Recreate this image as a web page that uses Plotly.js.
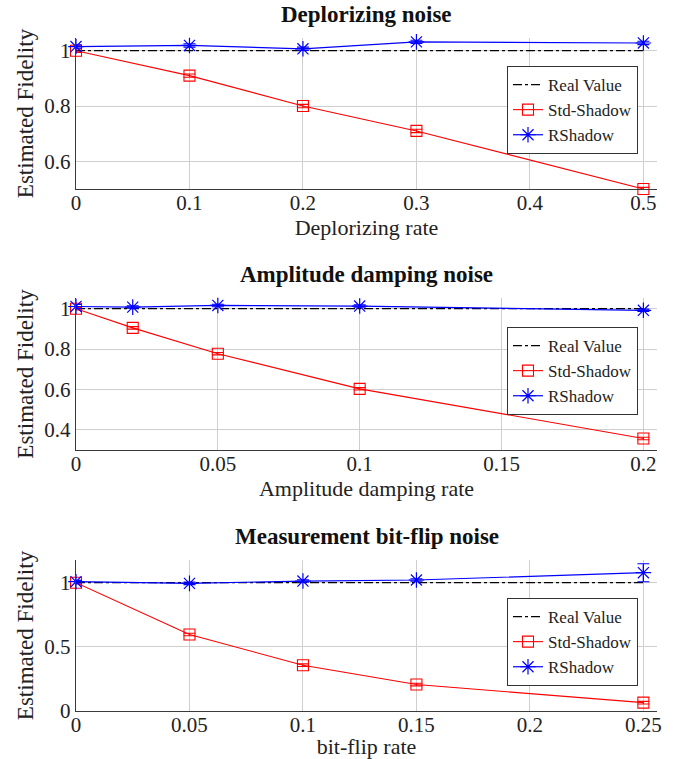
<!DOCTYPE html>
<html>
<head>
<meta charset="utf-8">
<script src="https://cdn.plot.ly/plotly-3.0.1.min.js"></script>
<style>html,body{margin:0;padding:0;background:#fff;}#chart{width:673px;height:759px;}</style>
</head>
<body>
<div id="chart"></div>
<script>
// ---- Data ----
const titles = ["Deplorizing noise", "Amplitude damping noise", "Measurement bit-flip noise"];
const xTitles = ["Deplorizing rate", "Amplitude damping rate", "bit-flip rate"];
const yTitle = "Estimated Fidelity";

const depolRate = [0, 0.1, 0.2, 0.3, 0.5];
const depolReal = [1, 1, 1, 1, 1];
const depolStd = [1.0, 0.91, 0.80, 0.71, 0.50];
const depolStdErr = [0.006, 0.006, 0.006, 0.006, 0.006];
const depolR = [1.015, 1.019, 1.007, 1.032, 1.028];
const depolRErr = [0.006, 0.006, 0.006, 0.006, 0.006];

const ampRate = [0, 0.02, 0.05, 0.1, 0.2];
const ampReal = [1, 1, 1, 1, 1];
const ampStd = [1.0, 0.905, 0.777, 0.603, 0.357];
const ampStdErr = [0.006, 0.006, 0.006, 0.006, 0.006];
const ampR = [1.011, 1.008, 1.016, 1.013, 0.992];
const ampRErr = [0.01, 0.006, 0.006, 0.006, 0.006];

const flipRate = [0, 0.05, 0.1, 0.15, 0.25];
const flipReal = [1, 1, 1, 1, 1];
const flipStd = [1.0, 0.596, 0.357, 0.206, 0.065];
const flipStdErr = [0.01, 0.01, 0.01, 0.01, 0.01];
const flipR = [1.008, 0.995, 1.013, 1.021, 1.078];
const flipRErr = [0.01, 0.01, 0.01, 0.01, 0.07];

const xTicks = [[0, 0.1, 0.2, 0.3, 0.4, 0.5], [0, 0.05, 0.1, 0.15, 0.2], [0, 0.05, 0.1, 0.15, 0.2, 0.25]];
const xTickText = [["0", "0.1", "0.2", "0.3", "0.4", "0.5"], ["0", "0.05", "0.1", "0.15", "0.2"], ["0", "0.05", "0.1", "0.15", "0.2", "0.25"]];
const yTicks = [[0.6, 0.8, 1], [0.4, 0.6, 0.8, 1], [0, 0.5, 1]];
const yTickText = [["0.6", "0.8", "1"], ["0.4", "0.6", "0.8", "1"], ["0", "0.5", "1"]];

const seriesNames = ["Real Value", "Std-Shadow", "RShadow"];

// ---- Styling / layout ----
const FONT = "Liberation Serif, DejaVu Serif, serif";
const RED = "#ff0000", BLUE = "#0000ff";
const W = 673, H = 759;
const panels = [
  {x: depolRate, real: depolReal, std: depolStd, stdErr: depolStdErr, r: depolR, rErr: depolRErr,
   xr: [0, 0.512], yr: [0.5, 1.046], top: 38, bottom: 189, legTop: 66, titleY: 15},
  {x: ampRate, real: ampReal, std: ampStd, stdErr: ampStdErr, r: ampR, rErr: ampRErr,
   xr: [0, 0.2048], yr: [0.3, 1.053], top: 298, bottom: 450, legTop: 327, titleY: 274},
  {x: flipRate, real: flipReal, std: flipStd, stdErr: flipStdErr, r: flipR, rErr: flipRErr,
   xr: [0, 0.256], yr: [0, 1.177], top: 560, bottom: 711, legTop: 598, titleY: 536}
];

const L = 76, R = 16;
const traces = [];
const layout = {
  width: W, height: H,
  margin: {l: L, r: R, t: 0, b: 0, pad: 0},
  paper_bgcolor: "#fff", plot_bgcolor: "#fff",
  font: {family: FONT, size: 20, color: "#222"},
  showlegend: true,
  annotations: []
};

panels.forEach((p, i) => {
  const n = i === 0 ? "" : String(i + 1);
  const xa = "x" + n, ya = "y" + n;
  const leg = i === 0 ? "legend" : "legend" + (i + 1);
  traces.push({
    x: p.x, y: p.real, xaxis: xa, yaxis: ya, legend: leg, name: seriesNames[0],
    mode: "lines", line: {color: "#000", width: 1.2, dash: "dashdot"}, cliponaxis: false
  });
  traces.push({
    x: p.x, y: p.std, xaxis: xa, yaxis: ya, legend: leg, name: seriesNames[1],
    mode: "lines+markers", line: {color: RED, width: 1.1},
    marker: {symbol: "square-open", size: 11, color: RED, line: {width: 1.1, color: RED}},
    error_y: {type: "data", array: p.stdErr, visible: true, color: RED, thickness: 1.1, width: 6},
    cliponaxis: false
  });
  traces.push({
    x: p.x, y: p.r, xaxis: xa, yaxis: ya, legend: leg, name: seriesNames[2],
    mode: "lines+markers", line: {color: BLUE, width: 1.2},
    marker: {symbol: "asterisk-open", size: 13, color: BLUE, line: {width: 1.2, color: BLUE}},
    error_y: {type: "data", array: p.rErr, visible: true, color: BLUE, thickness: 1.1, width: 6},
    cliponaxis: false
  });

  const d0 = 1 - p.bottom / H, d1 = 1 - p.top / H;
  layout["xaxis" + n] = {
    domain: [0, 1], range: p.xr, anchor: ya,
    tickmode: "array", tickvals: xTicks[i], ticktext: xTickText[i],
    showline: true, linecolor: "#3a3a3a", linewidth: 1.3,
    showgrid: true, gridcolor: "#cfcfcf", gridwidth: 1, zeroline: false,
    ticks: "", tickfont: {family: FONT, size: 21, color: "#222"},
    ticklabelstandoff: -6,
    title: {text: xTitles[i], font: {family: FONT, size: 22, color: "#222"}, standoff: 3},
    automargin: false, fixedrange: true
  };
  layout["yaxis" + n] = {
    domain: [d0, d1], range: p.yr, anchor: xa,
    tickmode: "array", tickvals: yTicks[i], ticktext: yTickText[i],
    showline: true, linecolor: "#3a3a3a", linewidth: 1.3,
    showgrid: true, gridcolor: "#cfcfcf", gridwidth: 1, zeroline: false,
    ticks: "", tickfont: {family: FONT, size: 21, color: "#222"},
    title: {text: yTitle, font: {family: FONT, size: 23, color: "#222"}, standoff: 4},
    automargin: false, fixedrange: true
  };
  layout[leg] = {
    x: (507 - L) / (W - L - R), y: 1 - p.legTop / H, xanchor: "left", yanchor: "top",
    xref: "paper", yref: "paper",
    bgcolor: "#fff", bordercolor: "#333", borderwidth: 1,
    font: {family: FONT, size: 17, color: "#222"},
    tracegroupgap: 0, itemwidth: 30
  };
  layout.annotations.push({
    text: "<b>" + titles[i] + "</b>", xref: "paper", yref: "paper",
    x: 0.5, y: 1 - p.titleY / H, xanchor: "center", yanchor: "middle",
    showarrow: false, font: {family: FONT, size: 23, color: "#111"}
  });
});

Plotly.newPlot("chart", traces, layout, {displayModeBar: false, staticPlot: true});
</script>
</body>
</html>
